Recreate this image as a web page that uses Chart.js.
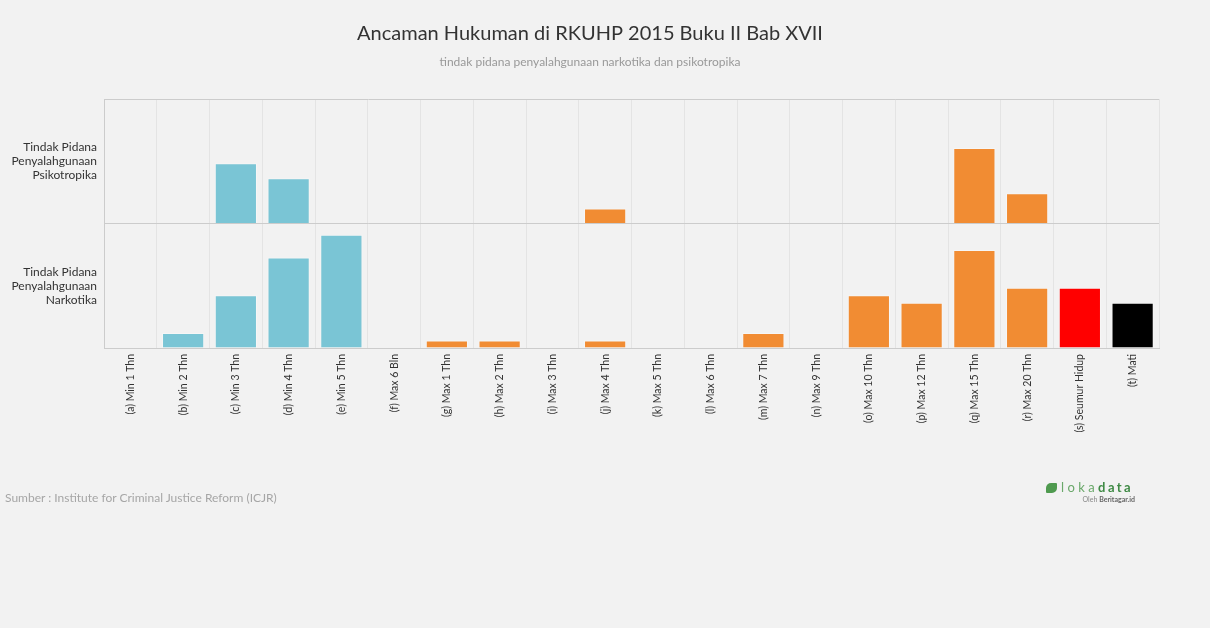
<!DOCTYPE html>
<html>
<head>
<meta charset="utf-8">
<title>Ancaman Hukuman di RKUHP 2015</title>
<script src="https://cdn.jsdelivr.net/npm/chart.js@4.4.0/dist/chart.umd.min.js"></script>
<style>
  html, body { margin: 0; padding: 0; background: #f2f2f2; }
  #wrap { position: relative; width: 1210px; height: 628px; font-family: Lato, sans-serif; }
  #chart { position: absolute; left: 0; top: 0; }
  .source { position: absolute; left: 5px; top: 490px; font-size: 12px; color: #a6a6a6; }
  .logo { position: absolute; left: 1046px; top: 476px; width: 92px; }
  .logo .ico { display: inline-block; width: 11px; height: 10px; background: #4f9a4f; border-radius: 5px 1px 5px 1px; vertical-align: -1px; margin-right: 4px; }
  .logo .lk { font-size: 13px; color: #6aa86a; letter-spacing: 3.4px; }
  .logo .dt { font-size: 13px; color: #3f8a45; font-weight: bold; letter-spacing: 2.4px; }
  .logo .by { font-size: 7px; color: #888; text-align: right; margin-top: 0; padding-right: 3px; }
  .logo .by b { color: #666; }
</style>
</head>
<body>
<div id="wrap">
  <canvas id="chart" width="1210" height="628"></canvas>
  <div class="source">Sumber : Institute for Criminal Justice Reform (ICJR)</div>
  <div class="logo"><span class="ico"></span><span class="lk">loka</span><span class="dt">data</span><div class="by">Oleh <b>Beritagar.id</b></div></div>
</div>
<script>
const categories = [
  '(a) Min 1 Thn', '(b) Min 2 Thn', '(c) Min 3 Thn', '(d) Min 4 Thn', '(e) Min 5 Thn',
  '(f) Max 6 Bln', '(g) Max 1 Thn', '(h) Max 2 Thn', '(i) Max 3 Thn', '(j) Max 4 Thn',
  '(k) Max 5 Thn', '(l) Max 6 Thn', '(m) Max 7 Thn', '(n) Max 9 Thn', '(o) Max 10 Thn',
  '(p) Max 12 Thn', '(q) Max 15 Thn', '(r) Max 20 Thn', '(s) Seumur Hidup', '(t) Mati'
];
const psikotropika = [0, 0, 8, 6, 0, 0, 0, 0, 0, 2, 0, 0, 0, 0, 0, 0, 10, 4, 0, 0];
const narkotika    = [0, 2, 7, 12, 15, 0, 1, 1, 0, 1, 0, 0, 2, 0, 7, 6, 13, 8, 8, 6];
const rowPsikotropika = ['Tindak Pidana', 'Penyalahgunaan', 'Psikotropika'];
const rowNarkotika = ['Tindak Pidana', 'Penyalahgunaan', 'Narkotika'];
const bandMax = 16.5;

// min = blue, max = orange, seumur hidup = red, mati = black
const BLUE = '#7ac5d5', ORANGE = '#f18c33', RED = '#ff0000', BLACK = '#000000';
const barColors = [
  BLUE, BLUE, BLUE, BLUE, BLUE,
  ORANGE, ORANGE, ORANGE, ORANGE, ORANGE, ORANGE, ORANGE, ORANGE, ORANGE, ORANGE, ORANGE, ORANGE, ORANGE,
  RED, BLACK
];

function rowAxis(lines, weight) {
  return {
    type: 'linear',
    position: 'left',
    stack: 'rows',
    stackWeight: 1,
    weight: weight,
    min: 0,
    max: bandMax,
    afterBuildTicks: s => { s.ticks = [{ value: 0 }, { value: bandMax / 2 }, { value: bandMax }]; },
    afterFit: s => { s.width = 104; },
    ticks: {
      autoSkip: false,
      padding: 7,
      color: '#333',
      font: { size: 12, lineHeight: 1.17 },
      callback: (v, i) => i === 1 ? lines : ''
    },
    grid: { drawTicks: false, color: c => c.index === 1 ? 'rgba(0,0,0,0)' : '#cccccc' },
    border: { display: true, color: '#cccccc' }
  };
}

function rowDataset(label, values, axis) {
  return {
    label: label,
    data: values,
    yAxisID: axis,
    grouped: false,
    backgroundColor: barColors,
    borderColor: 'rgba(255,255,255,0.35)',
    borderWidth: c => c.raw ? 1 : 0,
    barPercentage: 0.8,
    categoryPercentage: 1
  };
}

Chart.defaults.font.family = 'Lato, sans-serif';

new Chart(document.getElementById('chart').getContext('2d'), {
  type: 'bar',
  data: {
    labels: categories,
    datasets: [
      rowDataset('Tindak Pidana Penyalahgunaan Psikotropika', psikotropika, 'yPsi'),
      rowDataset('Tindak Pidana Penyalahgunaan Narkotika', narkotika, 'yNar')
    ]
  },
  options: {
    responsive: false,
    animation: false,
    layout: { padding: { top: 0, left: 0, right: 30, bottom: 190 } },
    plugins: {
      legend: { display: false },
      tooltip: { enabled: false },
      title: {
        display: true,
        text: 'Ancaman Hukuman di RKUHP 2015 Buku II Bab XVII',
        color: '#333',
        font: { size: 20, weight: 'normal' },
        padding: { top: 22, bottom: 0 }
      },
      subtitle: {
        display: true,
        text: 'tindak pidana penyalahgunaan narkotika dan psikotropika',
        color: '#999',
        font: { size: 12 },
        padding: { top: 8.8, bottom: 29.8 }
      }
    },
    scales: {
      x: {
        grid: {
          offset: true,
          drawTicks: false,
          color: c => (c.index === 0 || c.index === categories.length) ? '#cccccc' : '#e4e4e4'
        },
        border: { color: '#cccccc' },
        ticks: { autoSkip: false, minRotation: 90, maxRotation: 90, padding: 6, color: '#333', font: { size: 10.5 } },
        afterFit: s => { s.height = 90; }
      },
      yNar: rowAxis(rowNarkotika, 0),
      yPsi: rowAxis(rowPsikotropika, 1),
      // empty right gutter so the title centres like the original
      gutter: {
        type: 'linear',
        position: 'right',
        grid: { display: false },
        border: { display: false },
        ticks: { display: false },
        afterFit: s => { s.width = 21; }
      }
    }
  }
});
</script>
</body>
</html>
